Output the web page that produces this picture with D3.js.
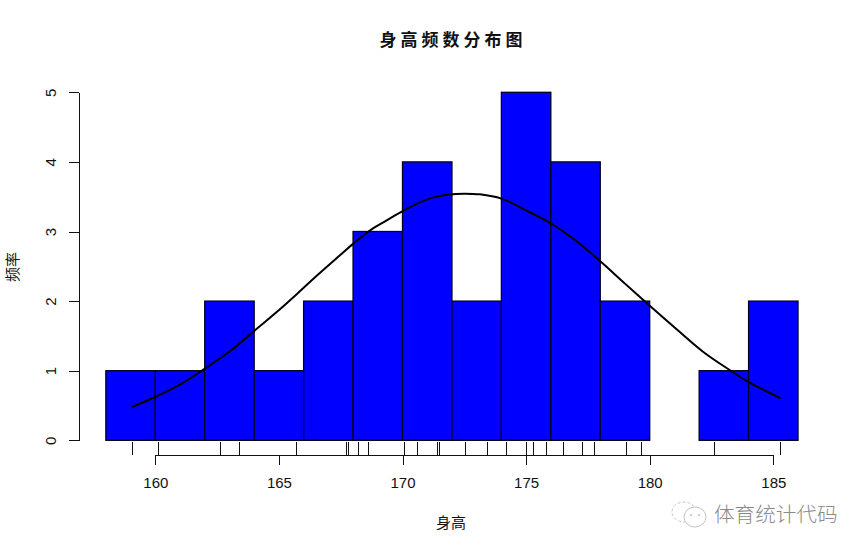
<!DOCTYPE html>
<html>
<head>
<meta charset="utf-8">
<script src="https://cdn.jsdelivr.net/npm/d3@7"></script>
<style>
  html, body { margin: 0; padding: 0; background: #fff; }
  svg { display: block; }
  text { font-family: "Liberation Sans", Arial, sans-serif; fill: #111; }
  .cjk { font-family: "Noto Sans CJK SC", sans-serif; }
</style>
</head>
<body>
<div id="chart"></div>
<script>
var binEdges = [158, 160, 162, 164, 166, 168, 170, 172, 174, 176, 178, 180, 182, 184, 186];
var binCounts = [1, 1, 2, 1, 2, 3, 4, 2, 5, 4, 2, 0, 1, 2];
var rugValues = [159.05, 160.12, 162.63, 163.4, 165.7, 167.72, 167.8, 168.21, 168.62,
  170.06, 170.6, 171.41, 171.48, 172.54, 173.43, 174.2, 175.01, 175.29, 175.79,
  176.5, 177.27, 177.73, 179.03, 179.66, 182.61, 185.28];
var curveX = [159.06, 159.99, 161.0, 162.01, 163.02, 164.0, 164.91, 165.72, 166.33, 167.47,
  168.01, 168.69, 169.36, 169.99, 170.98, 171.92, 172.53, 173.13, 174.0, 175.02,
  176.01, 176.78, 177.18, 177.99, 179.0, 179.98, 181.09, 182.17, 183.25, 183.99, 185.3];
var curveY = [0.478, 0.622, 0.80, 1.03, 1.279, 1.57, 1.843, 2.10, 2.30, 2.658,
  2.826, 3.017, 3.16, 3.29, 3.458, 3.534, 3.544, 3.534, 3.473, 3.30,
  3.115, 2.93, 2.82, 2.575, 2.251, 1.94, 1.595, 1.269, 1.006, 0.838, 0.603];
var xTicks = [160, 165, 170, 175, 180, 185];
var yTicks = [0, 1, 2, 3, 4, 5];

var width = 866;
var height = 552;

var svg = d3.select("#chart").append("svg")
  .attr("width", width)
  .attr("height", height);

var xScale = d3.scaleLinear().domain([160, 185]).range([155.3, 773.3]);
var yScale = d3.scaleLinear().domain([0, 5]).range([440.3, 92.3]);

// snap to the pixel grid so 1px rug strokes stay sharp
function snap(v) { return Math.round(v) + 0.5; }

/* Bars */
svg.append("g").selectAll("rect")
  .data(d3.range(binCounts.length).filter(function (i) { return binCounts[i] > 0; }))
  .enter().append("rect")
  .attr("x", function (i) { return xScale(binEdges[i]); })
  .attr("y", function (i) { return yScale(binCounts[i]); })
  .attr("width", function (i) { return xScale(binEdges[i + 1]) - xScale(binEdges[i]); })
  .attr("height", function (i) { return yScale(0) - yScale(binCounts[i]); })
  .attr("fill", "#0000ff")
  .attr("stroke", "#00001a")
  .attr("stroke-width", 1.3);

/* Rug */
svg.append("g").selectAll("line")
  .data(rugValues).enter()
  .append("line")
  .attr("x1", function (d) { return snap(xScale(d)); })
  .attr("x2", function (d) { return snap(xScale(d)); })
  .attr("y1", 442)
  .attr("y2", 455)
  .attr("stroke", "#111")
  .attr("stroke-width", 1);

/* Density curve */
var line = d3.line()
  .x(function (d, i) { return xScale(curveX[i]); })
  .y(function (d) { return yScale(d); })
  .curve(d3.curveCatmullRom.alpha(0.5));

svg.append("path")
  .attr("d", line(curveY))
  .attr("fill", "none")
  .attr("stroke", "#000")
  .attr("stroke-width", 2);

/* X axis */
var xAxis = d3.axisBottom(xScale).tickValues(xTicks).tickSize(10).tickPadding(12.5).tickSizeOuter(0);
var gx = svg.append("g")
  .attr("transform", "translate(0, 454.5)")
  .call(xAxis);
gx.selectAll("text").attr("font-size", 15).attr("fill", "#111");
gx.selectAll("line, path").attr("stroke", "#111").attr("shape-rendering", "crispEdges");

/* Y axis */
var yAxis = d3.axisLeft(yScale).tickValues(yTicks).tickFormat(d3.format("d")).tickSize(10).tickSizeOuter(0);
var gy = svg.append("g")
  .attr("transform", "translate(78.5, 0)")
  .call(yAxis);
gy.selectAll("line, path").attr("stroke", "#111").attr("shape-rendering", "crispEdges");
gy.selectAll("text")
  .attr("font-size", 15)
  .attr("fill", "#111")
  .attr("text-anchor", "middle")
  .attr("dy", null)
  .attr("x", null)
  .attr("transform", "translate(-23, 0) rotate(-90)");

/* Titles */
svg.append("text")
  .attr("class", "cjk")
  .attr("x", 453)
  .attr("y", 46)
  .attr("text-anchor", "middle")
  .attr("font-size", 17)
  .attr("font-weight", "bold")
  .attr("letter-spacing", 4)
  .text("身高频数分布图");

svg.append("text")
  .attr("class", "cjk")
  .attr("x", 451)
  .attr("y", 528)
  .attr("text-anchor", "middle")
  .attr("font-size", 15)
  .text("身高");

svg.append("text")
  .attr("class", "cjk")
  .attr("transform", "translate(18, 267) rotate(-90)")
  .attr("text-anchor", "middle")
  .attr("font-size", 15)
  .text("频率");

/* Watermark */
var mark = svg.append("g")
  .attr("fill", "#fff")
  .attr("stroke", "#c4c4c4")
  .attr("stroke-width", 1);
mark.append("ellipse").attr("cx", 684).attr("cy", 512).attr("rx", 12).attr("ry", 10).attr("stroke-dasharray", "3 2");
mark.append("ellipse").attr("cx", 695).attr("cy", 517).attr("rx", 11).attr("ry", 10);
mark.append("circle").attr("cx", 691).attr("cy", 515).attr("r", 0.8);
mark.append("circle").attr("cx", 699).attr("cy", 515).attr("r", 0.8);

svg.append("text")
  .attr("class", "cjk")
  .attr("x", 714)
  .attr("y", 522)
  .attr("font-size", 20.6)
  .attr("font-weight", 300)
  .style("fill", "#8a8a8a")
  .text("体育统计代码");
</script>
</body>
</html>
